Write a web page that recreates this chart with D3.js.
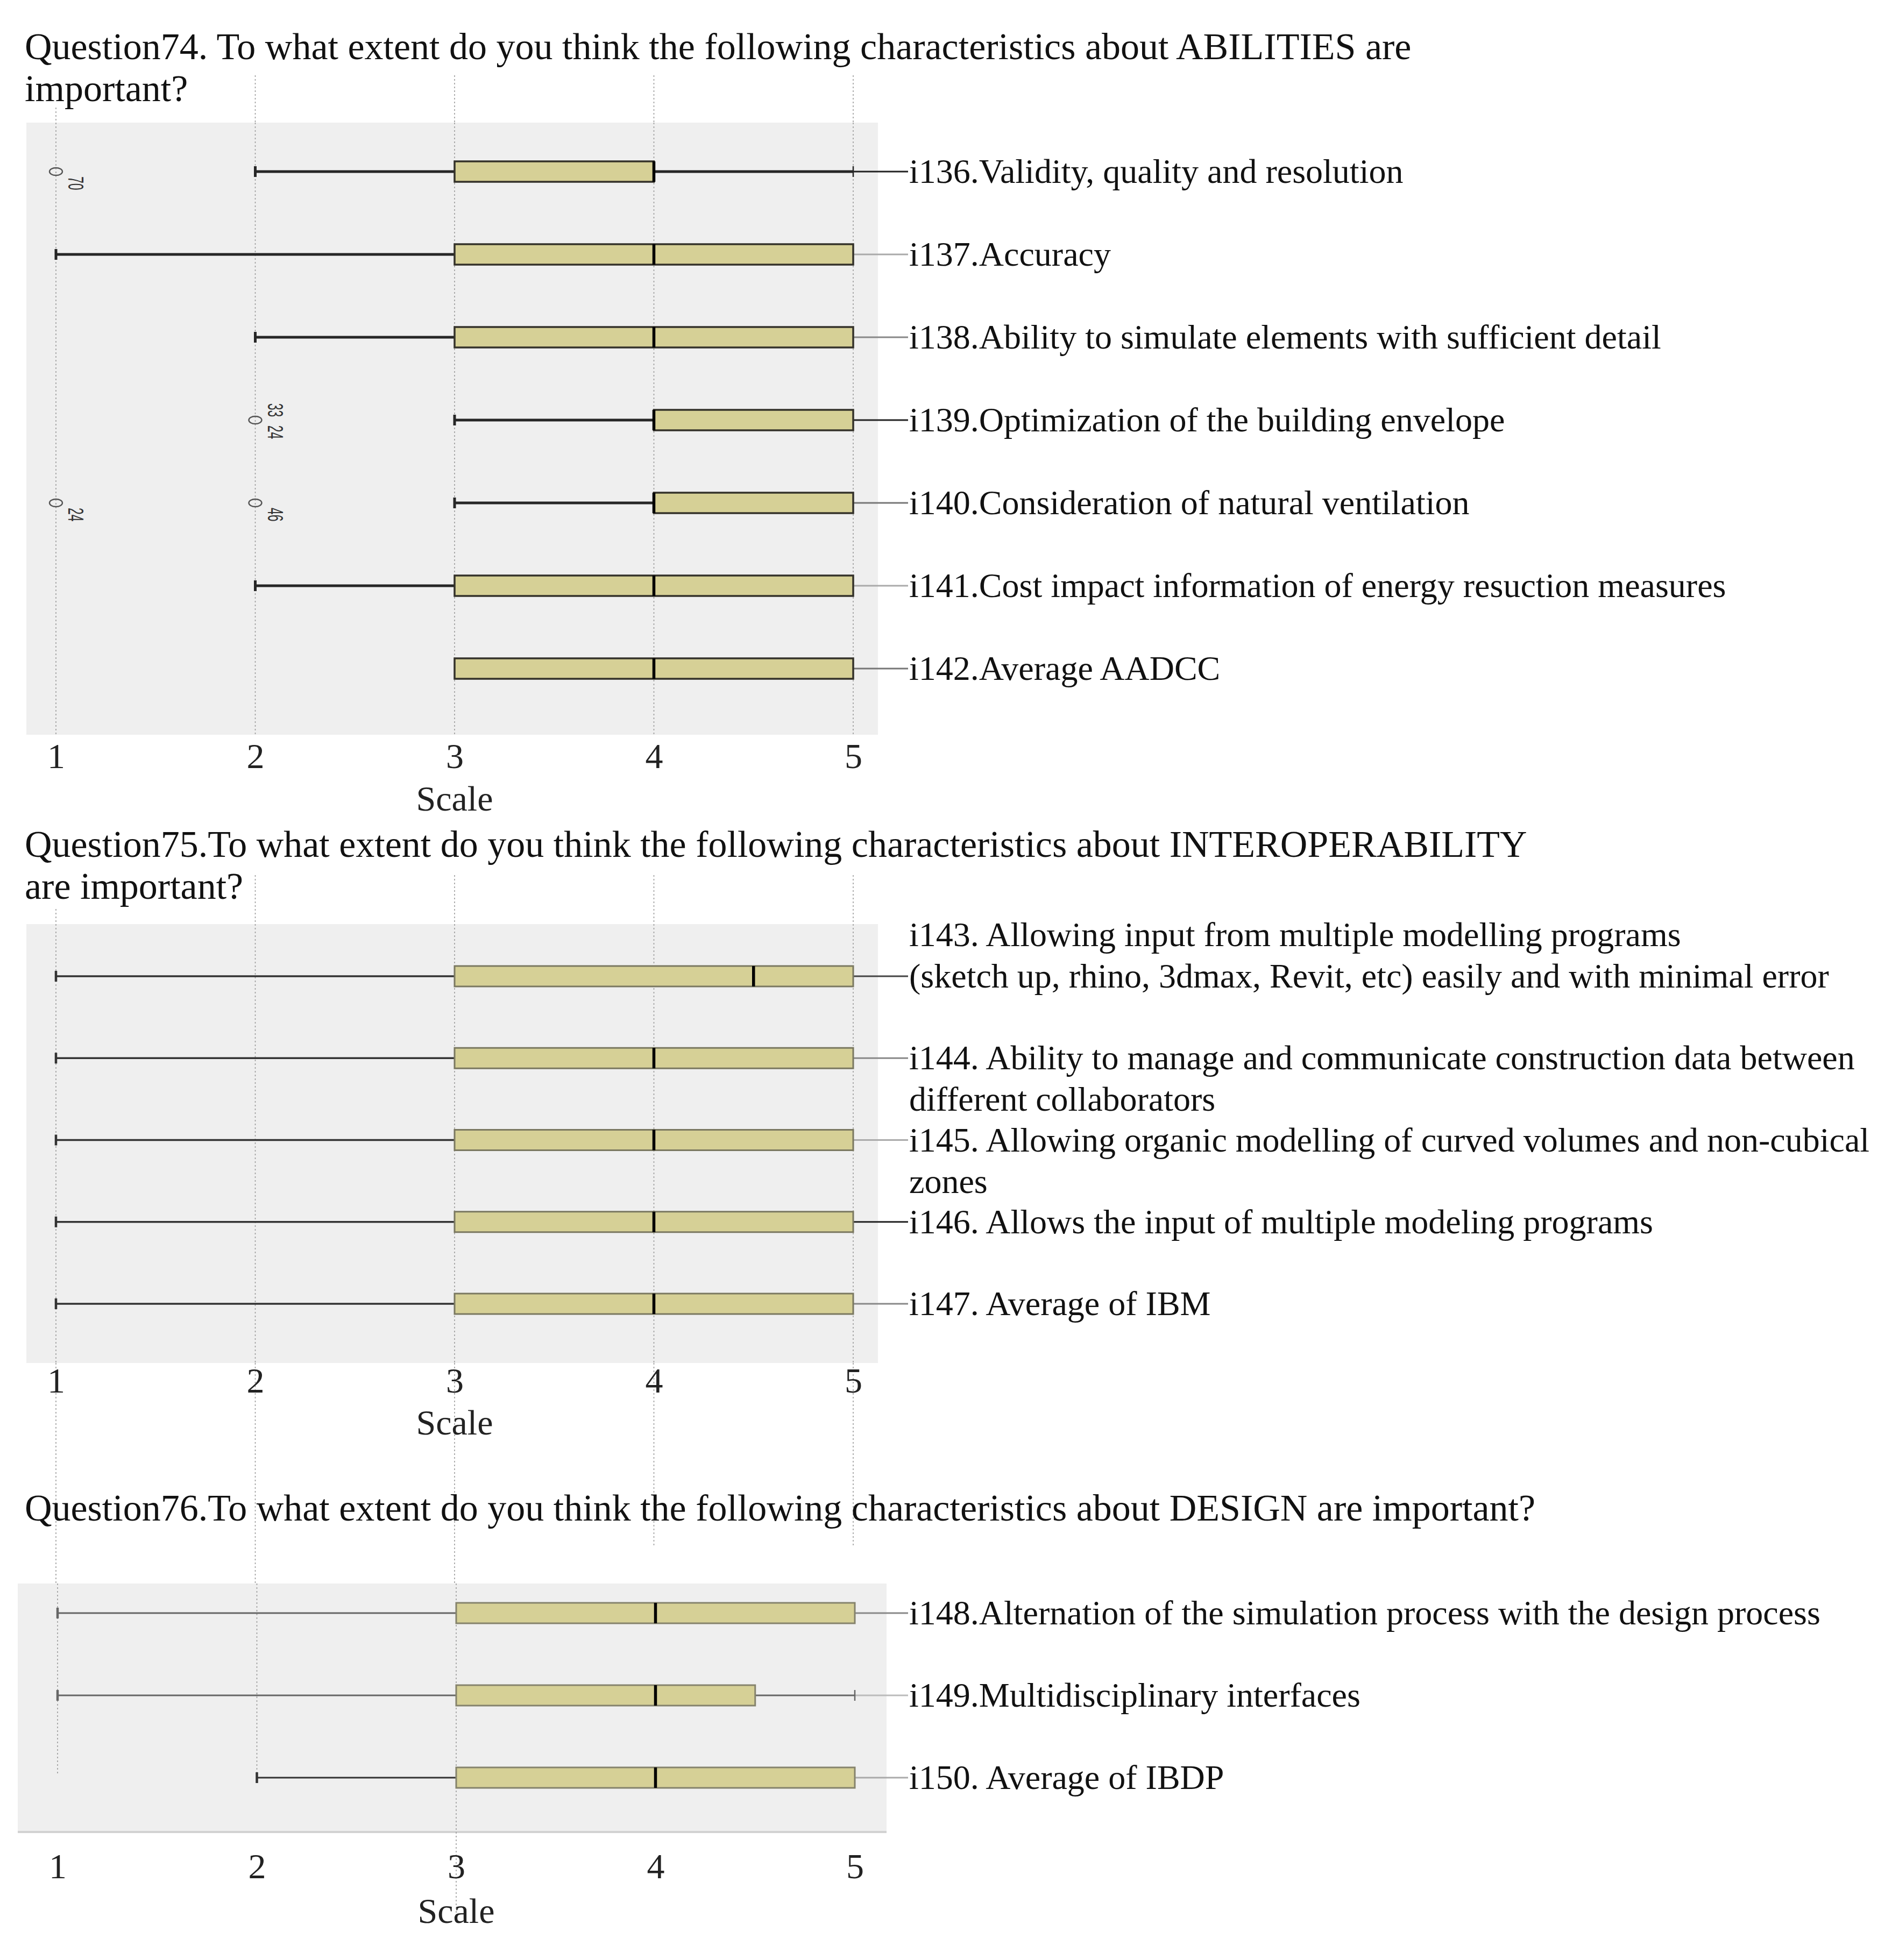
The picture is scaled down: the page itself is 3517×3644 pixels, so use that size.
<!DOCTYPE html>
<html><head><meta charset="utf-8">
<script src="https://cdn.jsdelivr.net/npm/d3@7"></script>
<style>body{margin:0;background:#fff}</style>
</head><body><div id="chart"></div>
<script>
// ---------------- DATA ----------------
const scaleTicks = [1, 2, 3, 4, 5];
const axisTitle = "Scale";

const q74Title = ["Question74. To what extent do you think the following characteristics about ABILITIES are", "important?"];
const q74Items = [
  ["i136.Validity, quality and resolution"],
  ["i137.Accuracy"],
  ["i138.Ability to simulate elements with sufficient detail"],
  ["i139.Optimization of the building envelope"],
  ["i140.Consideration of natural ventilation"],
  ["i141.Cost impact information of energy resuction measures"],
  ["i142.Average AADCC"]
];
const q74Anchor = [0, 0, 0, 0, 0, 0, 0];
const q74Min    = [2, 1, 2, 3, 3, 2, 3];
const q74Q1     = [3, 3, 3, 4, 4, 3, 3];
const q74Median = [4, 4, 4, 4, 4, 4, 4];
const q74Q3     = [4, 5, 5, 5, 5, 5, 5];
const q74Max    = [5, 5, 5, 5, 5, 5, 5];
const q74OutItem  = [0, 3, 4, 4];
const q74OutValue = [1, 2, 1, 2];
const q74OutLabel = ["70", "33 24", "24", "46"];

const q75Title = ["Question75.To what extent do you think the following characteristics about INTEROPERABILITY", "are important?"];
const q75Items = [
  ["i143. Allowing input from multiple modelling programs", "(sketch up, rhino, 3dmax, Revit, etc) easily and with minimal error"],
  ["i144. Ability to manage and communicate construction data between", "different collaborators"],
  ["i145. Allowing organic modelling of curved volumes and non-cubical", "zones"],
  ["i146. Allows the input of multiple modeling programs"],
  ["i147. Average of IBM"]
];
const q75Anchor = [1, 0, 0, 0, 0];
const q75Min    = [1, 1, 1, 1, 1];
const q75Q1     = [3, 3, 3, 3, 3];
const q75Median = [4.5, 4, 4, 4, 4];
const q75Q3     = [5, 5, 5, 5, 5];
const q75Max    = [5, 5, 5, 5, 5];

const q76Title = ["Question76.To what extent do you think the following characteristics about DESIGN are important?"];
const q76Items = [
  ["i148.Alternation of the simulation process with the design process"],
  ["i149.Multidisciplinary interfaces"],
  ["i150. Average of IBDP"]
];
const q76Anchor = [0, 0, 0];
const q76Min    = [1, 1, 2];
const q76Q1     = [3, 3, 3];
const q76Median = [4, 4, 4];
const q76Q3     = [5, 4.5, 5];
const q76Max    = [5, 5, 5];

// ---------------- LAYOUT / STYLE ----------------
const W = 3517, H = 3644;
const serif = "'Liberation Serif','Times New Roman',serif";
const sans = "'Liberation Sans',Arial,sans-serif";
const gridColor = "#9a9a9a";
const boxFill = "#d6d096";
const panelBg = "#efefef";

const svg = d3.select("#chart").append("svg")
  .attr("width", W).attr("height", H)
  .attr("xmlns", "http://www.w3.org/2000/svg");
svg.append("rect").attr("width", W).attr("height", H).attr("fill", "#fff");

const xA = d3.scaleLinear().domain([1, 5]).range([104, 1586]);
const xC = d3.scaleLinear().domain([1, 5]).range([107, 1589]);

const gridLayer = svg.append("g");
function vgrid(g, xs, ticks, y0, y1) {
  g.selectAll(null).data(ticks).enter().append("line")
    .attr("x1", d => xs(d)).attr("x2", d => xs(d))
    .attr("y1", y0).attr("y2", y1)
    .attr("stroke", gridColor).attr("stroke-width", 1.6)
    .attr("stroke-dasharray", "3,4");
}

// free-floating dotted guide segments between the panels
vgrid(gridLayer, xA, [2, 3, 4, 5], 140, 228);
vgrid(gridLayer, xA, [1], 200, 228);
vgrid(gridLayer, xA, [2, 3, 4, 5], 1627, 1718);
vgrid(gridLayer, xA, [1], 1690, 1718);
vgrid(gridLayer, xA, [1, 2, 3], 2534, 2944);
vgrid(gridLayer, xA, [4, 5], 2534, 2875);

function titleText(lines, baseline0) {
  const t = svg.append("g");
  lines.forEach((s, i) => {
    t.append("text").attr("x", 46).attr("y", baseline0 + i * 78)
      .attr("font-family", serif).attr("font-size", 70).attr("fill", "#111")
      .text(s);
  });
}

function drawPanel(cfg) {
  const g = svg.append("g");
  const xs = cfg.x;
  const n = cfg.items.length;
  const y = d3.scalePoint().domain(d3.range(n)).range([cfg.rowTop, cfg.rowBottom]);
  const bh = 38;

  g.append("rect").attr("x", cfg.bg[0]).attr("y", cfg.bg[1])
    .attr("width", cfg.bg[2] - cfg.bg[0]).attr("height", cfg.bg[3] - cfg.bg[1])
    .attr("fill", panelBg);
  if (cfg.bottomBorder) {
    g.append("line").attr("x1", cfg.bg[0]).attr("x2", cfg.bg[2])
      .attr("y1", cfg.bg[3] - 2).attr("y2", cfg.bg[3] - 2)
      .attr("stroke", "#d2d2d2").attr("stroke-width", 4);
  }
  cfg.grids.forEach(gr => vgrid(g, xs, gr.ticks, gr.y0, gr.y1));

  const idx = d3.range(n);
  // leader lines
  g.selectAll(null).data(idx).enter().append("line")
    .attr("x1", i => xs(cfg.max[i])).attr("x2", 1688)
    .attr("y1", i => y(i)).attr("y2", i => y(i))
    .attr("stroke", i => cfg.leader[i]).attr("stroke-width", 3);
  // whiskers
  g.selectAll(null).data(idx.filter(i => cfg.min[i] < cfg.q1[i])).enter().append("line")
    .attr("x1", i => xs(cfg.min[i])).attr("x2", i => xs(cfg.q1[i]))
    .attr("y1", i => y(i)).attr("y2", i => y(i))
    .attr("stroke", i => cfg.whiskerColor[i]).attr("stroke-width", cfg.whiskerWidth);
  g.selectAll(null).data(idx.filter(i => cfg.max[i] > cfg.q3[i])).enter().append("line")
    .attr("x1", i => xs(cfg.q3[i])).attr("x2", i => xs(cfg.max[i]))
    .attr("y1", i => y(i)).attr("y2", i => y(i))
    .attr("stroke", i => cfg.whiskerColor[i]).attr("stroke-width", cfg.whiskerWidth);
  // caps
  g.selectAll(null).data(idx.filter(i => cfg.min[i] < cfg.q1[i])).enter().append("line")
    .attr("x1", i => xs(cfg.min[i])).attr("x2", i => xs(cfg.min[i]))
    .attr("y1", i => y(i) - 10).attr("y2", i => y(i) + 10)
    .attr("stroke", i => cfg.whiskerColor[i]).attr("stroke-width", cfg.capWidth);
  g.selectAll(null).data(idx.filter(i => cfg.max[i] > cfg.q3[i])).enter().append("line")
    .attr("x1", i => xs(cfg.max[i])).attr("x2", i => xs(cfg.max[i]))
    .attr("y1", i => y(i) - 10).attr("y2", i => y(i) + 10)
    .attr("stroke", i => cfg.whiskerColor[i]).attr("stroke-width", 2.5);
  // boxes
  g.selectAll(null).data(idx).enter().append("rect")
    .attr("x", i => xs(cfg.q1[i])).attr("y", i => y(i) - bh / 2)
    .attr("width", i => xs(cfg.q3[i]) - xs(cfg.q1[i])).attr("height", bh)
    .attr("fill", boxFill).attr("stroke", cfg.boxStroke).attr("stroke-width", cfg.boxStrokeWidth);
  // medians
  g.selectAll(null).data(idx).enter().append("line")
    .attr("x1", i => xs(cfg.median[i])).attr("x2", i => xs(cfg.median[i]))
    .attr("y1", i => y(i) - bh / 2).attr("y2", i => y(i) + bh / 2)
    .attr("stroke", "#000").attr("stroke-width", 5.5);
  // outliers
  if (cfg.outItem) {
    const od = d3.range(cfg.outItem.length);
    g.selectAll(null).data(od).enter().append("ellipse")
      .attr("cx", k => xs(cfg.outValue[k])).attr("cy", k => y(cfg.outItem[k]))
      .attr("rx", 12).attr("ry", 7)
      .attr("fill", "none").attr("stroke", "#555").attr("stroke-width", 2.4);
    g.selectAll(null).data(od).enter().append("text")
      .attr("transform", k => {
        const multi = cfg.outLabel[k].indexOf(" ") >= 0;
        return `translate(${xs(cfg.outValue[k]) + 23},${y(cfg.outItem[k]) + (multi ? 2 : 9)}) rotate(90) scale(1,1.8)`;
      })
      .attr("text-anchor", k => cfg.outLabel[k].indexOf(" ") >= 0 ? "middle" : "start")
      .attr("word-spacing", 9)
      .attr("font-family", sans).attr("font-size", 23).attr("fill", "#333")
      .text(k => cfg.outLabel[k]);
  }
  // item labels
  idx.forEach(i => {
    const lines = cfg.items[i];
    const base = y(i) + 21 - cfg.anchor[i] * 77;
    lines.forEach((s, j) => {
      g.append("text").attr("x", 1690).attr("y", base + j * 77)
        .attr("font-family", serif).attr("font-size", cfg.labelSize).attr("fill", "#111")
        .text(s);
    });
  });
  // axis
  const axis = d3.axisBottom(xs).tickValues(scaleTicks).tickSize(0).tickPadding(0)
    .tickFormat(d3.format("d"));
  const ag = g.append("g").attr("transform", `translate(0,${cfg.tickBaseline})`).call(axis);
  ag.select(".domain").remove();
  ag.selectAll("text").attr("dy", null).attr("y", 0)
    .attr("font-family", serif).attr("font-size", 66).attr("fill", "#222");
  g.append("text").attr("x", xs(3)).attr("y", cfg.scaleBaseline)
    .attr("text-anchor", "middle").attr("font-family", serif)
    .attr("font-size", 66).attr("fill", "#222").text(axisTitle);
}

titleText(q74Title, 110);
drawPanel({
  x: xA, bg: [49, 228, 1632, 1366], rowTop: 319, rowBottom: 1243,
  items: q74Items, anchor: q74Anchor, min: q74Min, q1: q74Q1, median: q74Median, q3: q74Q3, max: q74Max,
  outItem: q74OutItem, outValue: q74OutValue, outLabel: q74OutLabel,
  grids: [{ ticks: [1, 2, 3, 4, 5], y0: 228, y1: 1366 }],
  leader: ["#222", "#aaa", "#888", "#222", "#777", "#aaa", "#777"],
  whiskerColor: ["#262626", "#262626", "#262626", "#262626", "#262626", "#262626", "#262626"],
  whiskerWidth: 5, capWidth: 5, boxStroke: "#34322a", boxStrokeWidth: 3.5, labelSize: 64,
  tickBaseline: 1428, scaleBaseline: 1507
});

titleText(q75Title, 1593);
drawPanel({
  x: xA, bg: [49, 1718, 1632, 2534], rowTop: 1815, rowBottom: 2424,
  items: q75Items, anchor: q75Anchor, min: q75Min, q1: q75Q1, median: q75Median, q3: q75Q3, max: q75Max,
  grids: [{ ticks: [1, 2, 3, 4, 5], y0: 1718, y1: 2534 }],
  leader: ["#444", "#888", "#aaa", "#222", "#888"],
  whiskerColor: ["#333", "#333", "#333", "#333", "#333"],
  whiskerWidth: 3.5, capWidth: 4.5, boxStroke: "#7a7860", boxStrokeWidth: 3, labelSize: 64,
  tickBaseline: 2589, scaleBaseline: 2667
});

titleText(q76Title, 2827);
drawPanel({
  x: xC, bg: [33, 2944, 1648, 3408], rowTop: 2999, rowBottom: 3305, bottomBorder: true,
  items: q76Items, anchor: q76Anchor, min: q76Min, q1: q76Q1, median: q76Median, q3: q76Q3, max: q76Max,
  grids: [{ ticks: [1, 2], y0: 2944, y1: 3300 }, { ticks: [3], y0: 2944, y1: 3560 }],
  leader: ["#888", "#bbb", "#aaa"],
  whiskerColor: ["#666", "#666", "#333"],
  whiskerWidth: 3, capWidth: 4.5, boxStroke: "#85836c", boxStrokeWidth: 3, labelSize: 64,
  tickBaseline: 3492, scaleBaseline: 3575
});
</script>
</body></html>
